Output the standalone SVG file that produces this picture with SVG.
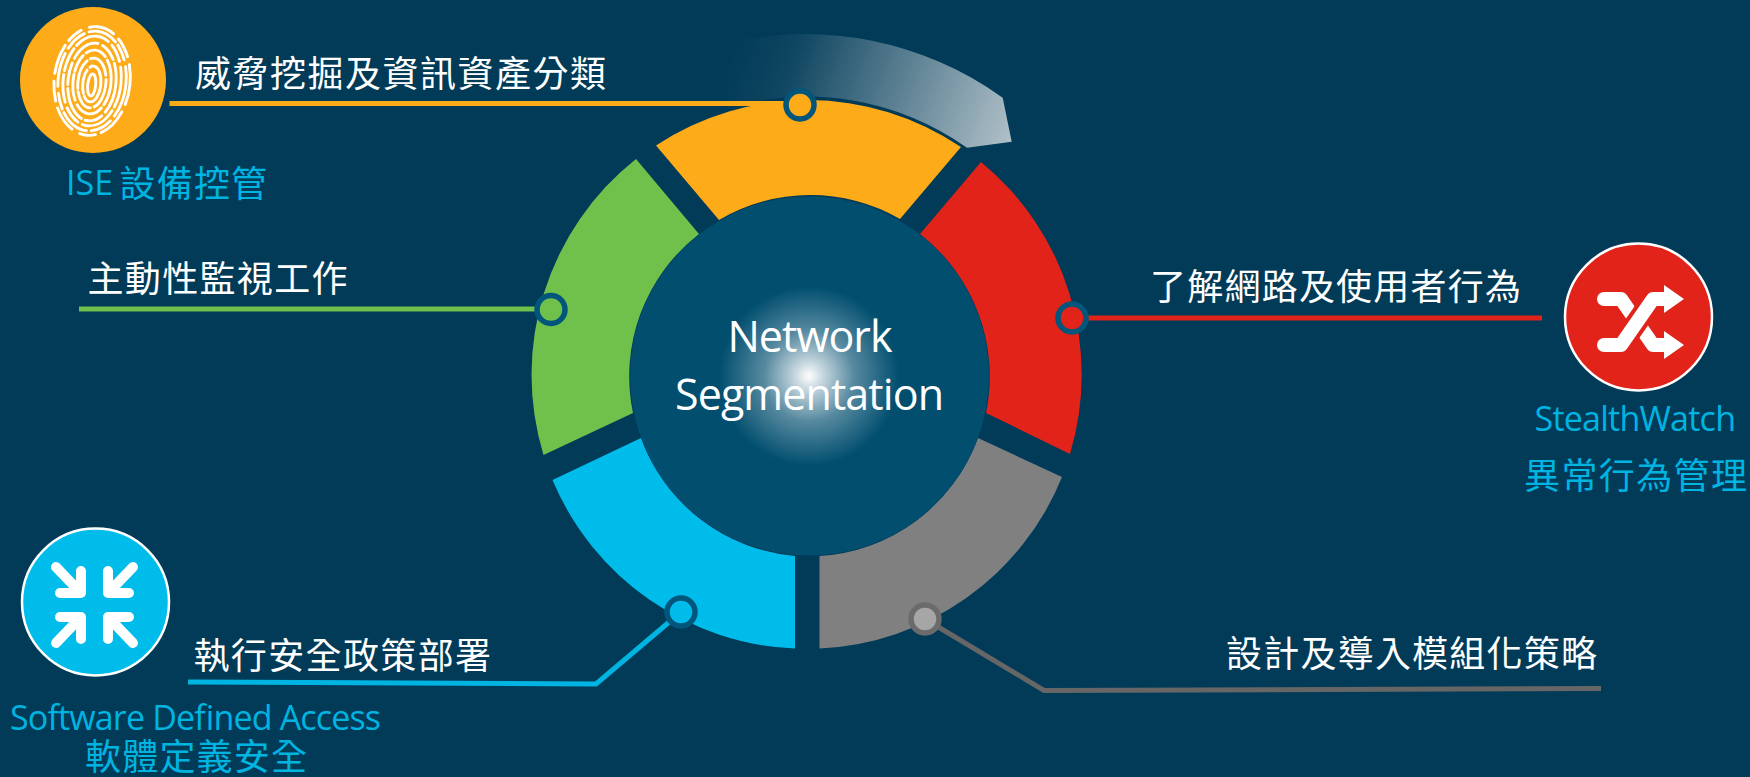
<svg xmlns="http://www.w3.org/2000/svg" width="1750" height="777" viewBox="0 0 1750 777">
<style>
.w{fill:#fff;font-family:"Noto Sans CJK TC","Noto Sans",sans-serif;font-size:36px}
.c{fill:#00B4E1;font-family:"Open Sans","Noto Sans CJK TC",sans-serif;font-size:34px}
.z{fill:#00B4E1;font-family:"Noto Sans CJK TC",sans-serif;font-size:36px}
.hub{fill:#fff;font-family:"Open Sans","Noto Sans",sans-serif;font-size:43px;text-anchor:middle}
.ln{fill:none;stroke-width:5}
.dot{stroke:#02557B;stroke-width:5.5}
.fp{fill:none;stroke:#fff;stroke-width:2.9;stroke-linecap:round}
.arw{fill:none;stroke:#fff;stroke-width:10;stroke-linecap:round;stroke-linejoin:round}
</style>
<defs>
<linearGradient id="sw" gradientUnits="userSpaceOnUse" x1="730" y1="50" x2="1012" y2="150">
<stop offset="0" stop-color="#c2ced4" stop-opacity="0"/>
<stop offset=".2" stop-color="#c2ced4" stop-opacity=".07"/>
<stop offset="1" stop-color="#c2ced4" stop-opacity=".92"/>
</linearGradient>
<radialGradient id="glow" gradientUnits="userSpaceOnUse" cx="809" cy="376" r="90">
<stop offset="0" stop-color="#fff"/>
<stop offset=".15" stop-color="#fff" stop-opacity=".78"/>
<stop offset=".5" stop-color="#fff" stop-opacity=".34"/>
<stop offset="1" stop-color="#fff" stop-opacity="0"/>
</radialGradient>
</defs>
<rect width="1750" height="777" fill="#013B58"/>
<g id="ring">
<path d="M727,43 A340,340 0 0 1 1002.7,97.7 L1011.7,141.7 L967,147.7 A278,278 0 0 0 727,108 Z" fill="url(#sw)"/>
<path d="M656,145.500 A275,275 0 0 1 961,147 L900,219 A180,180 0 0 0 719,220 Z" fill="#FDAB19"/>
<path d="M981,162 A275,275 0 0 1 1070,454 L986,413 A180,180 0 0 0 920,234 Z" fill="#E2231A"/>
<path d="M1062,477 A275,275 0 0 1 819.5,648.5 V556 A180,180 0 0 0 978,438 Z" fill="#808080"/>
<path d="M795,648.5 A275,275 0 0 1 552.5,480 L641,438 A180,180 0 0 0 795,556 Z" fill="#00BCEB"/>
<path d="M543.5,455 A275,275 0 0 1 636,159 L699,234 A180,180 0 0 0 633,413 Z" fill="#70C04C"/>
</g>
<g id="hub">
<circle cx="809.5" cy="376" r="179.500" fill="#014E6F"/>
<circle cx="809" cy="376" r="90" fill="url(#glow)"/>
<text class="hub" x="810" y="352" textLength="165">Network</text>
<text class="hub" x="809.500" y="410" textLength="269">Segmentation</text>
</g>
<g id="connectors">
<path class="ln" stroke="#FDAB19" d="M169.5,103.5 H800"/>
<path class="ln" stroke="#70C04C" d="M79,309 H551"/>
<path class="ln" stroke="#E2231A" d="M1071,318 H1542"/>
<path class="ln" stroke="#00B4E1" d="M188,682 L596,684 L681,612"/>
<path class="ln" stroke="#666" d="M925,619 L1044,690.5 L1601,688.500"/>
</g>
<g id="node-orange">
<circle cx="800" cy="105" r="14" fill="#FDAB19" class="dot"/>
<text class="w" x="195" y="87" textLength="411">威脅挖掘及資訊資產分類</text>
</g>
<g id="node-green">
<circle cx="551" cy="309.500" r="14" fill="#70C04C" class="dot"/>
<text class="w" x="87.500" y="292" textLength="260">主動性監視工作</text>
</g>
<g id="node-red">
<circle cx="1072" cy="318" r="14" fill="#E2231A" class="dot"/>
<text class="w" x="1150" y="300" textLength="371">了解網路及使用者行為</text>
</g>
<g id="node-blue">
<circle cx="681" cy="612" r="14" fill="#00BCEB" class="dot"/>
<text class="w" x="193.500" y="668.500" textLength="297.500">執行安全政策部署</text>
</g>
<g id="node-gray">
<circle cx="925" cy="619" r="14" fill="#A6A6A6" stroke="#6B6B6B" stroke-width="5.5"/>
<text class="w" x="1226" y="667" textLength="371">設計及導入模組化策略</text>
</g>
<g id="ise">
<circle cx="93" cy="80" r="73" fill="#FDAB19"/>
<g transform="rotate(6 92 82)">
<ellipse class="fp" cx="92" cy="85" rx="4" ry="11"/>
<ellipse class="fp" cx="92" cy="84" rx="9" ry="18" stroke-dasharray="30 3 24 4"/>
<ellipse class="fp" cx="92" cy="83" rx="14" ry="25" stroke-dasharray="26 4 22 3 30 4"/>
<ellipse class="fp" cx="92" cy="82" rx="19" ry="32" stroke-dasharray="22 4 30 5 26 3 18 4"/>
<ellipse class="fp" cx="92" cy="82" rx="24" ry="39" stroke-dasharray="30 5 18 4 34 4 22 5"/>
<ellipse class="fp" cx="92" cy="81" rx="29" ry="45" stroke-dasharray="24 4 36 5 18 6 28 4"/>
<ellipse class="fp" cx="92" cy="81" rx="34" ry="50" stroke-dasharray="34 6 22 5 30 4 16 7"/>
<ellipse class="fp" cx="92" cy="81" rx="38" ry="54.500" stroke-dasharray="20 8 30 6 16 9 26 7"/>
</g>
<text class="c" x="66" y="195">ISE<tspan class="z" x="119.500" dy="2" style="letter-spacing:1.2px">設備控管</tspan></text>
</g>
<g id="stealthwatch">
<circle cx="1638.500" cy="317" r="73.500" fill="#E2231A" stroke="#fff" stroke-width="2.500"/>
<path d="M1604,299 H1621 L1653,345 H1668" fill="none" stroke="#fff" stroke-width="14" stroke-linecap="round" stroke-linejoin="round"/>
<path d="M1621,345 L1653,299" fill="none" stroke="#E2231A" stroke-width="22"/>
<path d="M1604,345 H1621 L1653,299 H1668" fill="none" stroke="#fff" stroke-width="14" stroke-linecap="round" stroke-linejoin="round"/>
<path d="M1664,285 L1684,299 L1664,313 Z M1664,331 L1684,345 L1664,359 Z" fill="#fff"/>
<text class="c" x="1534.500" y="431" textLength="201.500">StealthWatch</text>
<text class="z" x="1524" y="489" textLength="223">異常行為管理</text>
</g>
<g id="sda">
<circle cx="95.500" cy="602" r="73.500" fill="#00BCEB" stroke="#fff" stroke-width="2.500"/>
<path class="arw" d="M81,571 V593 H60 M56,567 L79,591"/>
<path class="arw" d="M108,571 V593 H129 M133,567 L110,591"/>
<path class="arw" d="M81,639 V617 H60 M56,643 L79,619"/>
<path class="arw" d="M108,639 V617 H129 M133,643 L110,619"/>
<text class="c" x="10" y="730" textLength="371">Software Defined Access</text>
<text class="z" x="85" y="770" textLength="222">軟體定義安全</text>
</g>
</svg>
